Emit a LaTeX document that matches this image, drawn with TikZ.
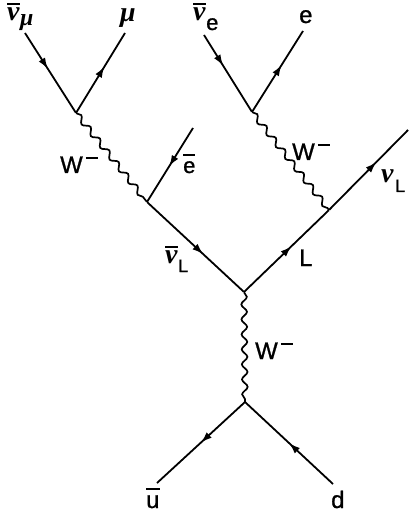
\documentclass[tikz,border=0pt]{standalone}
\usepackage{fontspec}
\setmainfont[FakeBold=1]{Liberation Sans}
\newfontfamily\gk{Liberation Serif}
\usetikzlibrary{decorations.pathmorphing,decorations.markings,arrows.meta}
\newsavebox{\barbox}
\newcommand{\barred}[2]{\sbox{\barbox}{#2}\leavevmode\rlap{\raisebox{#1}{\rule{\wd\barbox}{1.8bp}}}\usebox{\barbox}}
\newcommand{\gknu}{{\gk\itshape\bfseries ν}}
\newcommand{\gkmu}{{\gk\itshape\bfseries μ}}
\newcommand{\wminus}{W\hspace{3bp}\raisebox{14bp}{\rule{12bp}{1.8bp}}}
\tikzset{
  fermion/.style={line width=1.8bp,postaction={decorate},decoration={markings,mark=at position #1 with {\arrow{Latex[length=11bp,width=7.5bp]}}}},
  boson/.style={line width=1.7bp,decorate,decoration={snake,amplitude=2.8bp,segment length=15bp}},
  vertex/.style={inner sep=0pt,minimum size=0pt},
  lab/.style={inner sep=0pt,anchor=base west,font=\fontsize{24}{26}\selectfont},
  smalllab/.style={inner sep=0pt,anchor=base west,font=\fontsize{22}{24}\selectfont},
  sub/.style={inner sep=0pt,anchor=base west,font=\fontsize{18}{20}\selectfont},
  greek/.style={inner sep=0pt,anchor=base west,font=\fontsize{28}{30}\selectfont},
  subgreek/.style={inner sep=0pt,anchor=base west,font=\fontsize{24}{26}\selectfont},
}
\begin{document}
\begin{tikzpicture}[x=1bp,y=-1bp]
\useasboundingbox (0,0) rectangle (408,517);
\node[vertex] (v1) at (76,113) {};
\node[vertex] (v2) at (147,202) {};
\node[vertex] (v3) at (244,292) {};
\node[vertex] (v4) at (252,112) {};
\node[vertex] (v5) at (329,210) {};
\node[vertex] (v6) at (245,402) {};
\coordinate (numu) at (25,33);
\coordinate (mu) at (125,33);
\coordinate (ebar) at (193,128);
\coordinate (nue) at (204,35);
\coordinate (e) at (303,31);
\coordinate (nuL) at (408,130);
\coordinate (ubar) at (157,483);
\coordinate (d) at (333,484);
\draw[fermion=0.45] (numu) -- (v1);
\draw[fermion=0.58] (v1) -- (mu);
\draw[fermion=0.52] (ebar) -- (v2);
\draw[fermion=0.40] (nue) -- (v4);
\draw[fermion=0.58] (v4) -- (e);
\draw[fermion=0.58] (v2) -- (v3);
\draw[fermion=0.56] (v3) -- (v5);
\draw[fermion=0.60] (v5) -- (nuL);
\draw[fermion=0.50] (v6) -- (ubar);
\draw[fermion=0.50] (d) -- (v6);
\draw[boson] (v1) -- (v2);
\draw[boson] (v4) -- (v5);
\draw[boson] (v3) -- (v6);
\node[greek] (l1) at (7,21) {\barred{16bp}{\gknu}};
\node[subgreek] (l1s) at (20,26) {\gkmu};
\node[greek] (l2) at (120,22) {\gkmu};
\node[greek] (l3) at (193,21) {\barred{16bp}{\gknu}};
\node[smalllab] (l3s) at (206,30) {e};
\node[lab] (l4) at (299,23) {e};
\node[lab] (l5) at (60,173) {\wminus};
\node[smalllab] (l6) at (183,173) {\barred{17bp}{e}};
\node[lab] (l7) at (292,160) {\wminus};
\node[greek] (l8) at (381,183) {\gknu};
\node[sub] (l8s) at (395,192) {L};
\node[greek] (l9) at (165,263) {\barred{15bp}{\gknu}};
\node[sub] (l9s) at (178,272) {L};
\node[lab] (l10) at (299,266) {L};
\node[lab] (l11) at (255,359) {\wminus};
\node[lab] (l12) at (146,508) {\barred{18bp}{u}};
\node[lab] (l13) at (331,508) {d};
\end{tikzpicture}
\end{document}
